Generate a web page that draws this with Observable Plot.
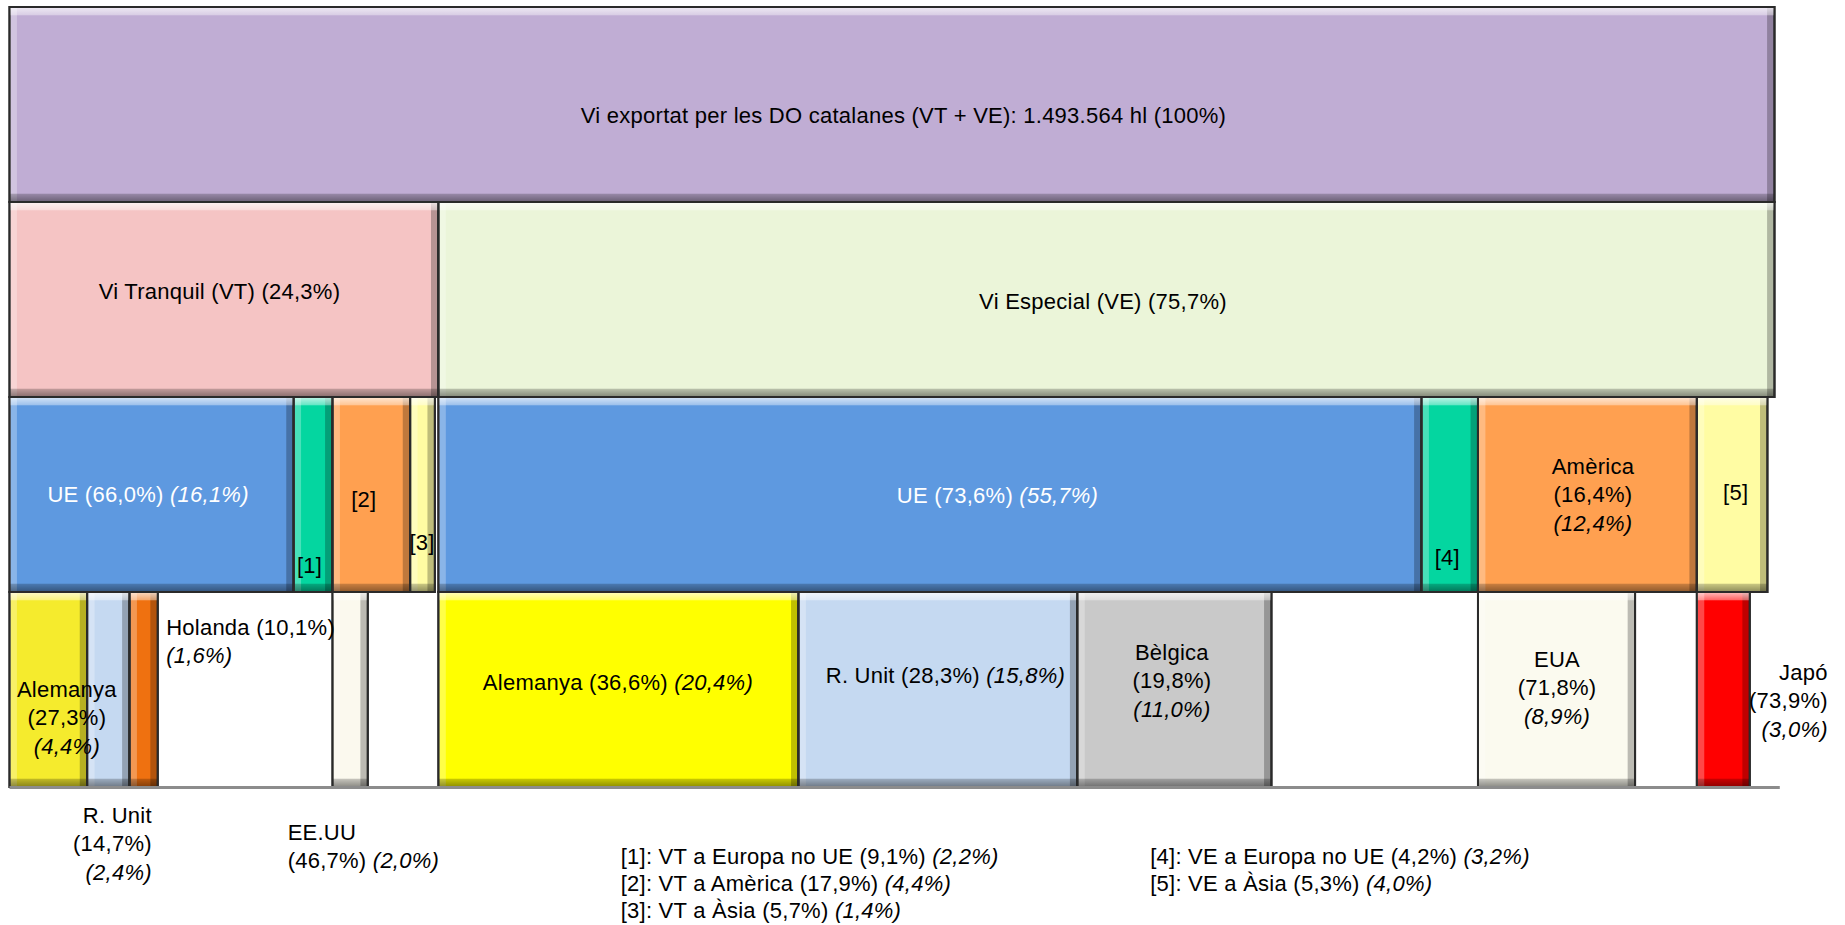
<!DOCTYPE html>
<html>
<head>
<meta charset="utf-8">
<script src="https://cdn.jsdelivr.net/npm/d3@7"></script>
<script src="https://cdn.jsdelivr.net/npm/@observablehq/plot@0.6"></script>
<style>
  html, body { margin: 0; padding: 0; background: #fff; }
</style>
</head>
<body>
<div id="chart"></div>
<script>
// ---------------- DATA ----------------
const totalLabel = "Vi exportat per les DO catalanes (VT + VE): 1.493.564 hl";
const totalShare = 100;

const typeIds = ["VT", "VE"];
const typeNames = ["Vi Tranquil (VT)", "Vi Especial (VE)"];
const typeShare = [24.3, 75.7];

const regionIds = ["VT-UE", "VT-EU", "VT-AM", "VT-AS", "VE-UE", "VE-EU", "VE-AM", "VE-AS"];
const regionParent = ["VT", "VT", "VT", "VT", "VE", "VE", "VE", "VE"];
const regionNames = ["UE", "[1]", "[2]", "[3]", "UE", "[4]", "Amèrica", "[5]"];
const regionNotes = ["", "VT a Europa no UE", "VT a Amèrica", "VT a Àsia", "", "VE a Europa no UE", "", "VE a Àsia"];
const regionShareParent = [66.0, 9.1, 17.9, 5.7, 73.6, 4.2, 16.4, 5.3];
const regionShareTotal = [16.1, 2.2, 4.4, 1.4, 55.7, 3.2, 12.4, 4.0];

const countryIds = ["VT-DE", "VT-UK", "VT-NL", "VT-US", "VE-DE", "VE-UK", "VE-BE", "VE-US", "VE-JP"];
const countryParent = ["VT-UE", "VT-UE", "VT-UE", "VT-AM", "VE-UE", "VE-UE", "VE-UE", "VE-AM", "VE-AS"];
const countryNames = ["Alemanya", "R. Unit", "Holanda", "EE.UU", "Alemanya", "R. Unit", "Bèlgica", "EUA", "Japó"];
const countryShareParent = [27.3, 14.7, 10.1, 46.7, 36.6, 28.3, 19.8, 71.8, 73.9];
const countryShareTotal = [4.4, 2.4, 1.6, 2.0, 20.4, 15.8, 11.0, 8.9, 3.0];

// ---------------- STYLE ----------------
const colors = {
  total: "#C0ADD4", VT: "#F5C4C4", VE: "#EBF5D9",
  "VT-UE": "#5E99E0", "VT-EU": "#04D6A0", "VT-AM": "#FFA050", "VT-AS": "#FFFCA3",
  "VE-UE": "#5E99E0", "VE-EU": "#04D6A0", "VE-AM": "#FFA050", "VE-AS": "#FFFCA3",
  "VT-DE": "#F5EB2D", "VT-UK": "#C5D9F1", "VT-NL": "#EF7110", "VT-US": "#FBF9EE",
  "VE-DE": "#FFFF00", "VE-UK": "#C5D9F1", "VE-BE": "#C9C9C9", "VE-US": "#FBFAEF", "VE-JP": "#FF0000"
};

// label placement (pixel offsets from bar centre, anchor, line-break mode)
const labelLayout = {
  total:   {dx: 11, dy: 9, mode: "one"},
  VT:      {dx: -5, dy: -10, mode: "one"},
  VE:      {dx: -4, dy: 0, mode: "one"},
  "VT-UE": {dx: -4, dy: -2, mode: "one", fill: "white"},
  "VT-EU": {dx: -4, dy: 69, mode: "name"},
  "VT-AM": {dx: -8, dy: 3, mode: "name"},
  "VT-AS": {dx: -1, dy: 46, mode: "name"},
  "VE-UE": {dx: 67, dy: -1, mode: "one", fill: "white"},
  "VE-EU": {dx: -3, dy: 61, mode: "name"},
  "VE-AM": {dx: 5, dy: -2, mode: "stack"},
  "VE-AS": {dx: 3, dy: -4, mode: "name"},
  "VT-DE": {dx: 18, dy: 26, mode: "stack"},
  "VT-UK": {dx: 43, dy: 152, mode: "stack", anchor: "end"},
  "VT-NL": {dx: 22, dy: -50, mode: "last", anchor: "start"},
  "VT-US": {dx: -63, dy: 155, mode: "nameBreak", anchor: "start"},
  "VE-DE": {dx: -1, dy: -9, mode: "one"},
  "VE-UK": {dx: 7, dy: -16, mode: "one"},
  "VE-BE": {dx: -3, dy: -11, mode: "stack"},
  "VE-US": {dx: 0, dy: -4, mode: "stack"},
  "VE-JP": {dx: 104, dy: 9, mode: "stack", anchor: "end"}
};
const noteColumns = [{x: 34.6, y: 4.487, ids: ["VT-EU", "VT-AM", "VT-AS"]}, {x: 64.6, y: 4.418, ids: ["VE-EU", "VE-AS"]}];
const FONT = "'Liberation Sans', Arial, Helvetica, sans-serif";
const FS = 22;

// ---------------- BUILD ----------------
const pct = v => d3.format(".1f")(v).replace(".", ",") + "%";
const nodes = [];
nodes.push({id: "total", level: 0, x1: 0, x2: totalShare, name: totalLabel, p: null, t: totalShare});
let acc = 0;
typeIds.forEach((id, i) => {
  nodes.push({id, level: 1, x1: acc, x2: acc + typeShare[i], name: typeNames[i], p: typeShare[i], t: typeShare[i]});
  acc += typeShare[i];
});
const startOf = Object.fromEntries(nodes.map(n => [n.id, n.x1]));
const cursor = {};
function addChildren(ids, parents, names, sp, st, level) {
  ids.forEach((id, i) => {
    const par = parents[i];
    const c = cursor[par] ?? startOf[par];
    nodes.push({id, level, x1: c, x2: c + st[i], name: names[i], p: sp[i], t: st[i]});
    cursor[par] = c + st[i];
    startOf[id] = c;
  });
}
addChildren(regionIds, regionParent, regionNames, regionShareParent, regionShareTotal, 2);
addChildren(countryIds, countryParent, countryNames, countryShareParent, countryShareTotal, 3);

function labelText(n) {
  const L = labelLayout[n.id];
  if (n.id === "total") return `${n.name} (100%)`;
  if (n.level === 1) return `${n.name} (${pct(n.p)})`;
  const a = `(${pct(n.p)})`, b = `*(${pct(n.t)})*`;
  switch (L.mode) {
    case "name": return n.name;
    case "stack": return `${n.name}\n${a}\n${b}`;
    case "last": return `${n.name} ${a}\n${b}`;
    case "nameBreak": return `${n.name}\n${a} ${b}`;
    default: return `${n.name} ${a} ${b}`;
  }
}

const bevelW = 0.42; // in share units (≈ 7px)
const labelMarks = nodes.map(n => {
  const L = labelLayout[n.id];
  return Plot.text([n], {
    x: d => (d.x1 + d.x2) / 2,
    y: d => d.level + 0.5,
    text: labelText,
    dx: L.dx, dy: L.dy,
    textAnchor: L.anchor || "middle",
    lineAnchor: "middle",
    lineHeight: 1.3,
    fill: L.fill || "black",
    fontSize: FS
  });
});

const noteMarks = noteColumns.map(col => Plot.text([col], {
  x: "x", y: "y",
  text: c => c.ids.map(id => {
    const i = regionIds.indexOf(id);
    return `${regionNames[i]}: ${regionNotes[i]} (${pct(regionShareParent[i])}) *(${pct(regionShareTotal[i])})*`;
  }).join("\n"),
  textAnchor: "start",
  lineAnchor: "middle",
  lineHeight: 1.23,
  fontSize: FS
}));

const chart = Plot.plot({
  width: 1845,
  height: 925,
  margin: 0,
  style: {fontFamily: FONT, fontSize: FS + "px", background: "white", overflow: "visible", letterSpacing: "0.25px"},
  x: {domain: [0, 100], range: [9.5, 1774.5], axis: null},
  y: {domain: [0, 4], range: [7, 787], axis: null},
  marks: [
    Plot.rect(nodes, {x1: "x1", x2: "x2", y1: "level", y2: d => d.level + 1, fill: d => colors[d.id], stroke: "#333", strokeWidth: 2}),
    // bevel: left light / right dark strips
    Plot.rect(nodes, {x1: "x1", x2: d => Math.min(d.x1 + bevelW, d.x2), y1: "level", y2: d => d.level + 1, fill: "white", fillOpacity: 0.28}),
    Plot.rect(nodes, {x1: d => Math.max(d.x2 - bevelW, d.x1), x2: "x2", y1: "level", y2: d => d.level + 1, fill: "black", fillOpacity: 0.25}),
    // bevel: top light / bottom dark
    Plot.rect(nodes, {x1: "x1", x2: "x2", y1: "level", y2: d => d.level + 1, fill: "url(#vbevel)"}),
    Plot.rect(nodes, {x1: "x1", x2: "x2", y1: "level", y2: d => d.level + 1, fill: "none", stroke: "#2a2a2a", strokeWidth: 2}),
    Plot.ruleY([4], {x1: 0, x2: 100.3, stroke: "#8c8c8c", strokeWidth: 3}),
    ...labelMarks,
    ...noteMarks
  ]
});

// gradient definitions for the bevel effect
const NS = "http://www.w3.org/2000/svg";
const defs = document.createElementNS(NS, "defs");
defs.innerHTML = `
<linearGradient id="vbevel" x1="0" y1="0" x2="0" y2="1">
  <stop offset="0" stop-color="#fff" stop-opacity="0.75"/>
  <stop offset="0.04" stop-color="#fff" stop-opacity="0.4"/>
  <stop offset="0.045" stop-color="#fff" stop-opacity="0"/>
  <stop offset="0.955" stop-color="#000" stop-opacity="0"/>
  <stop offset="0.96" stop-color="#000" stop-opacity="0.22"/>
  <stop offset="1" stop-color="#000" stop-opacity="0.45"/>
</linearGradient>`;
chart.insertBefore(defs, chart.firstChild);

// italic parts marked with *...*
const walker = document.createTreeWalker(chart, NodeFilter.SHOW_TEXT);
const targets = [];
while (walker.nextNode()) if (walker.currentNode.data.includes("*")) targets.push(walker.currentNode);
targets.forEach(node => {
  const parts = node.data.split("*");
  const frag = document.createDocumentFragment();
  parts.forEach((p, i) => {
    if (!p) return;
    if (i % 2) {
      const t = document.createElementNS(NS, "tspan");
      t.setAttribute("font-style", "italic");
      t.textContent = p;
      frag.appendChild(t);
    } else frag.appendChild(document.createTextNode(p));
  });
  node.parentNode.replaceChild(frag, node);
});

document.getElementById("chart").appendChild(chart);
</script>
</body>
</html>
